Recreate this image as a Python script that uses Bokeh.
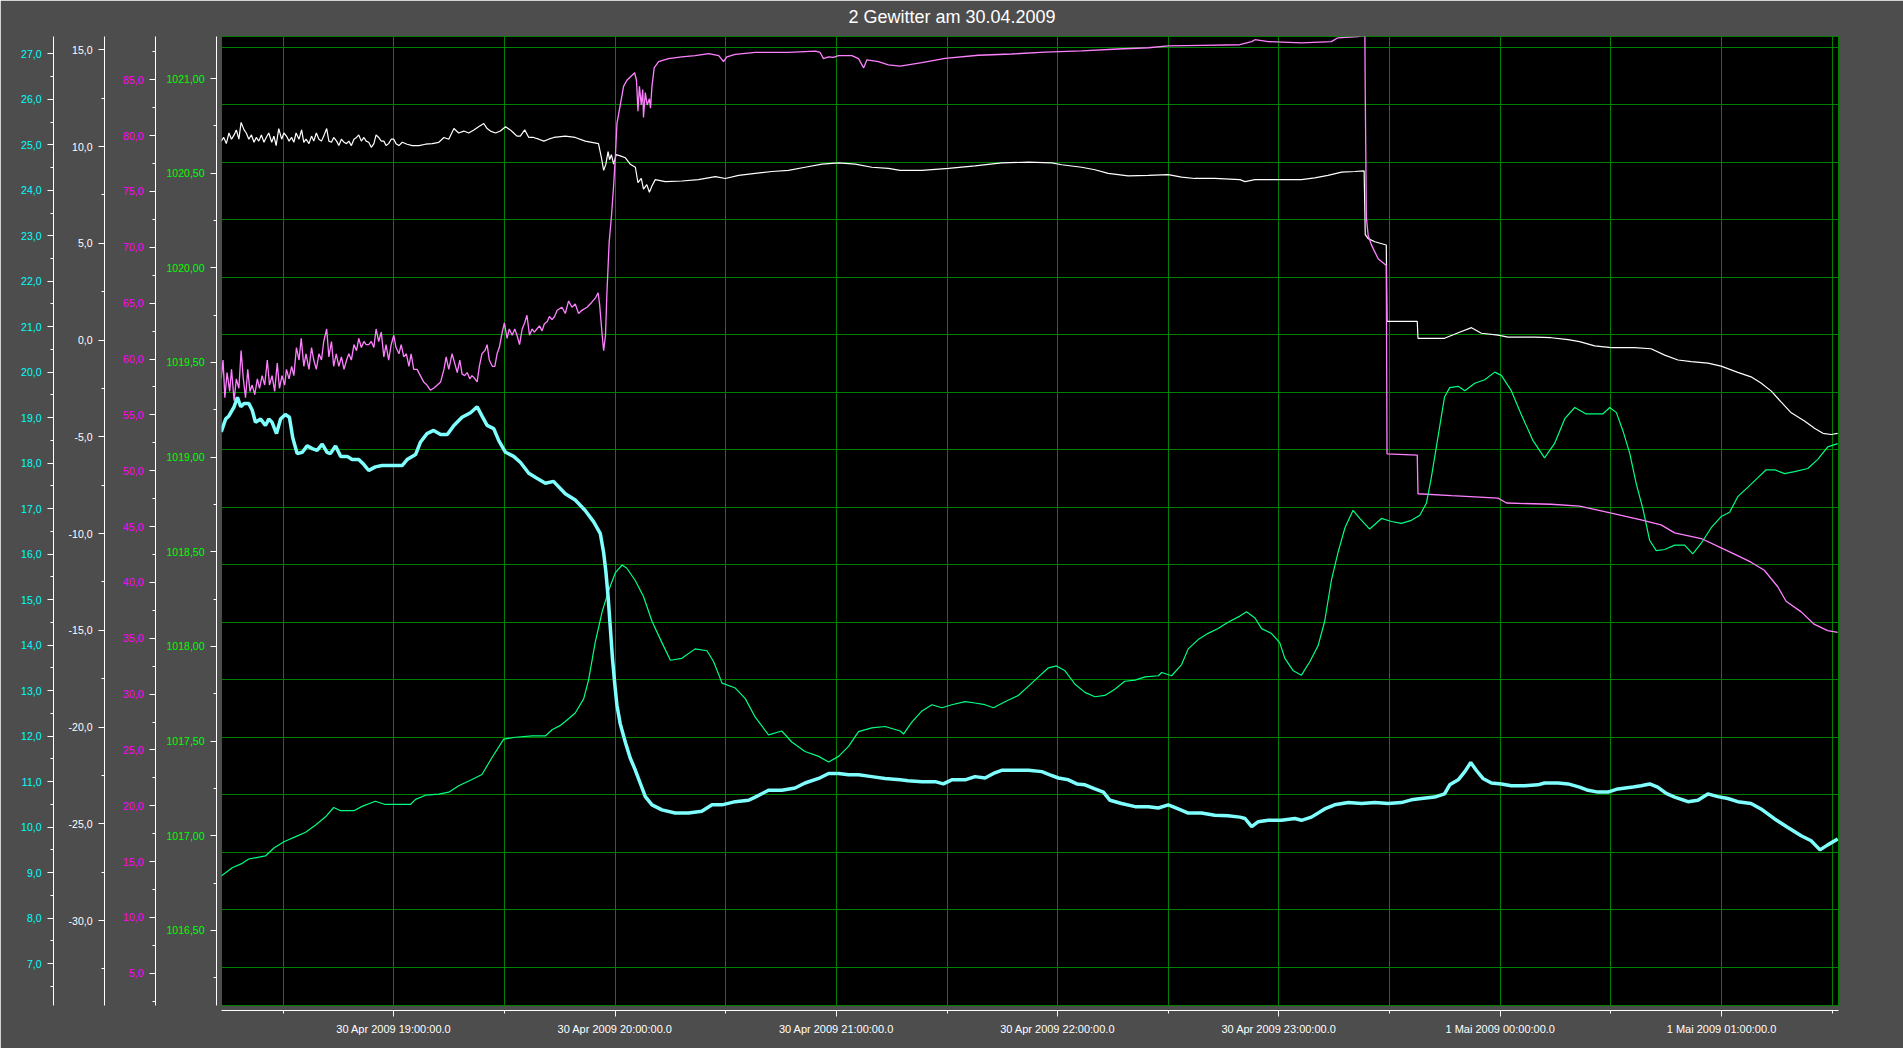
import pandas as pd
from bokeh.plotting import figure
from bokeh.models import (Range1d, LinearAxis, SingleIntervalTicker, FixedTicker,
                          CustomJSTickFormatter, Grid, ColumnDataSource)
from bokeh.embed import file_html
from bokeh.resources import INLINE

TITLE = "2 Gewitter am 30.04.2009"
BASE = "2009-04-30 19:00:00"          # time reference, series times are minutes after it
X_START = "2009-04-30 18:13:17"
X_END = "2009-05-01 01:31:43"

HOUR_TICKS = ["2009-04-30 19:00", "2009-04-30 20:00", "2009-04-30 21:00", "2009-04-30 22:00",
              "2009-04-30 23:00", "2009-05-01 00:00", "2009-05-01 01:00"]
HOUR_LABELS = ["30 Apr 2009 19:00:00.0", "30 Apr 2009 20:00:00.0", "30 Apr 2009 21:00:00.0",
               "30 Apr 2009 22:00:00.0", "30 Apr 2009 23:00:00.0", "1 Mai 2009 00:00:00.0",
               "1 Mai 2009 01:00:00.0"]
HALF_TICKS = ["2009-04-30 18:30", "2009-04-30 19:30", "2009-04-30 20:30", "2009-04-30 21:30",
              "2009-04-30 22:30", "2009-04-30 23:30", "2009-05-01 00:30", "2009-05-01 01:30"]

# axis ranges (value at bottom, value at top of plot area)
TEMP_RANGE = (6.079, 27.380)
DEW_RANGE = (-34.39, 15.687)
HUM_RANGE = (2.12, 88.877)
PRES_RANGE = (1016.103, 1021.222)
GRID_RANGE = (-0.668, 16.187)   # horizontal grid rows 0..16
GRID_ROWS = list(range(17))

# cyan series (temperature) : (minutes after 19:00, value)
TEMP = [(-46.8, 18.69), (-45.6, 18.97), (-44.7, 19.04), (-43.3, 19.24), (-42.4, 19.45), (-41.5, 19.24),
        (-40.6, 19.31), (-39.3, 19.31), (-38.4, 19.17), (-37.5, 18.90), (-36.1, 18.97), (-34.8, 18.83),
        (-33.9, 18.97), (-33.0, 18.90), (-31.8, 18.65), (-30.7, 18.97), (-29.4, 19.07), (-28.3, 19.01),
        (-27.4, 18.56), (-26.2, 18.21), (-24.8, 18.24), (-23.5, 18.38), (-22.1, 18.32), (-20.8, 18.28),
        (-19.4, 18.42), (-18.1, 18.24), (-17.2, 18.21), (-15.8, 18.38), (-14.4, 18.15), (-12.6, 18.15),
        (-11.3, 18.08), (-9.5, 18.08), (-8.1, 17.97), (-6.8, 17.84), (-5.0, 17.92), (-3.2, 17.95),
        (-1.4, 17.95), (0.5, 17.95), (2.3, 17.95), (3.6, 18.08), (5.9, 18.19), (7.2, 18.46), (9.0, 18.65),
        (10.8, 18.72), (12.7, 18.63), (14.5, 18.63), (16.3, 18.83), (18.5, 19.01), (20.8, 19.11),
        (22.6, 19.24), (23.9, 19.04), (25.3, 18.83), (27.1, 18.76), (28.5, 18.49), (30.3, 18.24),
        (32.5, 18.15), (34.3, 18.02), (36.6, 17.78), (38.8, 17.67), (41.1, 17.56), (43.3, 17.60),
        (46.5, 17.33), (49.2, 17.19), (51.9, 16.96), (54.2, 16.71), (56.0, 16.45), (56.9, 16.03),
        (57.5, 15.62), (58.1, 15.07), (58.7, 14.39), (59.3, 13.70), (59.9, 13.16), (60.5, 12.68),
        (61.4, 12.27), (62.8, 11.86), (64.1, 11.52), (65.5, 11.25), (66.8, 10.97), (68.2, 10.67),
        (70.0, 10.49), (72.7, 10.38), (76.3, 10.31), (79.9, 10.31), (83.5, 10.35), (86.3, 10.49),
        (89.0, 10.49), (92.6, 10.56), (96.2, 10.59), (98.0, 10.66), (101.6, 10.81), (105.2, 10.81),
        (108.8, 10.86), (111.5, 10.97), (115.2, 11.07), (117.9, 11.18), (120.6, 11.18), (123.3, 11.15),
        (126.0, 11.15), (129.6, 11.11), (133.2, 11.07), (137.3, 11.04),
        (139.5, 11.02), (143.2, 11.00), (146.8, 11.00), (149.0, 10.95), (151.3, 11.04), (154.9, 11.04),
        (157.6, 11.11), (160.3, 11.08), (162.6, 11.18), (164.8, 11.25), (168.4, 11.25), (172.1, 11.25),
        (175.7, 11.22), (177.9, 11.15), (180.2, 11.08), (182.9, 11.04), (185.2, 10.95), (187.4, 10.93),
        (190.1, 10.84), (192.4, 10.77), (194.2, 10.59), (197.3, 10.52), (201.0, 10.45), (204.6, 10.45),
        (207.3, 10.42), (210.0, 10.49), (212.7, 10.40), (215.4, 10.31), (219.0, 10.31), (222.6, 10.26),
        (226.2, 10.25), (229.4, 10.22),
        (230.8, 10.19), (232.6, 10.01), (234.4, 10.12), (237.1, 10.15), (240.7, 10.15), (244.3, 10.19),
        (246.1, 10.15), (248.8, 10.22), (252.4, 10.40), (255.1, 10.49), (258.8, 10.54), (262.4, 10.52),
        (266.0, 10.54), (269.6, 10.52), (273.2, 10.54), (275.9, 10.60), (278.6, 10.63), (282.2, 10.66),
        (284.9, 10.73), (286.3, 10.93), (288.6, 11.04), (290.4, 11.22), (292.0, 11.42), (293.5, 11.25),
        (295.3, 11.07), (297.6, 10.97), (300.3, 10.95), (303.0, 10.91), (306.6, 10.91), (310.2, 10.93),
        (312.0, 10.97), (315.7, 10.97), (318.4, 10.95), (321.5, 10.88),
        (323.8, 10.81), (326.5, 10.77), (329.2, 10.77), (331.9, 10.84), (336.0, 10.88), (338.2, 10.91),
        (340.5, 10.95), (342.7, 10.88), (345.0, 10.74), (347.3, 10.66), (350.9, 10.56), (353.6, 10.59),
        (356.3, 10.73), (359.0, 10.67), (361.7, 10.63), (364.4, 10.56), (368.0, 10.52), (370.7, 10.40),
        (374.4, 10.18), (378.0, 9.99), (381.6, 9.81), (384.3, 9.70), (386.7, 9.50), (388.8, 9.61),
        (391.5, 9.74)]

# white series
DEW = [(-46.8, 10.28), (-46.1, 10.47), (-45.4, 10.15), (-44.7, 10.70), (-44.0, 10.38), (-43.3, 10.60),
       (-42.7, 10.86), (-42.0, 10.38), (-41.4, 11.25), (-40.6, 10.86), (-40.0, 10.70), (-39.3, 10.38),
       (-38.6, 10.60), (-37.9, 10.22), (-37.3, 10.47), (-36.6, 10.28), (-35.9, 10.60), (-35.2, 10.22),
       (-34.6, 10.47), (-33.9, 10.70), (-33.1, 10.22), (-32.5, 10.54), (-31.9, 10.05), (-31.2, 10.93),
       (-30.4, 10.38), (-29.8, 10.70), (-29.1, 10.54), (-28.4, 10.28), (-27.7, 10.47), (-27.1, 10.22),
       (-26.5, 10.70), (-25.7, 10.38), (-25.0, 10.86), (-24.4, 10.22), (-23.8, 10.38), (-23.0, 10.15),
       (-22.3, 10.54), (-21.7, 10.28), (-21.0, 10.70), (-20.3, 10.38), (-19.6, 10.28), (-19.0, 10.54),
       (-18.2, 10.93), (-17.6, 10.28), (-16.9, 10.22), (-16.3, 10.47), (-15.5, 10.28), (-14.9, 10.05),
       (-14.2, 10.38), (-13.5, 10.22), (-12.8, 10.15), (-12.2, 10.28), (-11.5, 10.05), (-10.8, 10.38),
       (-10.1, 10.47), (-9.5, 10.60), (-8.8, 10.28), (-8.1, 10.47), (-7.5, 10.28), (-6.8, 10.22),
       (-6.1, 9.96), (-5.4, 10.15), (-4.8, 10.60), (-4.1, 10.47), (-3.4, 10.28), (-2.7, 10.28),
       (-2.1, 10.05), (-1.4, 10.15), (-0.7, 10.38), (0.0, 10.38), (0.6, 10.15), (1.4, 10.05), (2.3, 10.22),
       (3.6, 10.12), (5.0, 10.05), (6.8, 10.05), (8.6, 10.12), (10.4, 10.15), (12.2, 10.22), (13.6, 10.47),
       (14.9, 10.38), (16.3, 10.93), (17.6, 10.70), (19.0, 10.80), (20.3, 10.70), (21.7, 10.86),
       (23.0, 11.02), (24.4, 11.19), (25.3, 10.93), (26.2, 10.80), (27.6, 10.70), (28.9, 10.80),
       (30.3, 11.02), (31.6, 10.86), (32.5, 10.70), (33.4, 10.54), (34.3, 10.54), (35.5, 10.86),
       (36.6, 10.47), (37.9, 10.47), (39.3, 10.38), (40.7, 10.28), (42.0, 10.38), (43.4, 10.47),
       (46.5, 10.54), (49.2, 10.47), (51.9, 10.28), (53.7, 10.22), (55.5, 10.15), (56.3, 9.42),
       (56.9, 8.77), (57.5, 9.09), (58.1, 9.74), (58.5, 9.32), (59.0, 9.58), (59.6, 9.09), (60.3, 9.58),
       (61.4, 9.52), (62.8, 9.42), (64.1, 9.09), (65.5, 8.93), (66.2, 8.13), (67.1, 8.35), (67.7, 7.80),
       (68.6, 8.03), (69.3, 7.64), (70.0, 7.96), (70.9, 8.29), (73.6, 8.19), (78.1, 8.22), (82.6, 8.29),
       (87.2, 8.45), (89.9, 8.35), (93.5, 8.51), (98.0, 8.61), (102.5, 8.71), (107.0, 8.77),
       (111.5, 8.93), (116.1, 9.09), (120.6, 9.16), (125.1, 9.09), (129.6, 8.93), (134.1, 8.87),
       (137.3, 8.77), (143.2, 8.77), (150.4, 8.87), (157.6, 9.00), (164.8, 9.16), (172.1, 9.19),
       (178.4, 9.16), (181.1, 9.06), (186.5, 8.93), (190.1, 8.80), (193.7, 8.61), (199.1, 8.48),
       (204.6, 8.51), (210.0, 8.55), (213.6, 8.42), (217.2, 8.35), (222.6, 8.35), (229.4, 8.29),
       (230.8, 8.19), (233.5, 8.29), (238.9, 8.29), (246.1, 8.29), (249.7, 8.38), (253.3, 8.51),
       (257.0, 8.68), (260.6, 8.71), (263.1, 8.74), (263.4, 5.45), (264.2, 5.24), (266.0, 5.08),
       (269.1, 4.91), (269.3, 0.96), (277.5, 0.96), (277.7, 0.09), (284.9, 0.09), (288.6, 0.38),
       (292.2, 0.64), (294.9, 0.35), (299.4, 0.25), (302.1, 0.15), (309.3, 0.15), (313.8, 0.12),
       (318.4, 0.02), (321.5, -0.08), (325.6, -0.30), (330.1, -0.39), (336.4, -0.39), (340.9, -0.45),
       (344.6, -0.78), (348.2, -1.03), (351.8, -1.12), (356.3, -1.19), (359.9, -1.35), (364.4, -1.67),
       (368.0, -1.90), (370.7, -2.22), (373.5, -2.64), (376.2, -3.21), (378.9, -3.76), (382.5, -4.18),
       (385.2, -4.56), (387.5, -4.82), (389.7, -4.88), (391.5, -4.82)]

# magenta series
HUM = [(-46.8, 58.23), (-46.3, 59.91), (-45.8, 56.54), (-45.2, 58.79), (-44.5, 57.10), (-44.0, 59.07),
       (-43.3, 56.26), (-42.7, 58.23), (-42.0, 57.38), (-41.4, 60.75), (-40.8, 58.23), (-40.2, 56.54),
       (-39.6, 59.07), (-39.0, 57.10), (-38.4, 57.67), (-37.7, 56.82), (-37.0, 58.23), (-36.4, 57.38),
       (-35.7, 58.51), (-35.0, 57.67), (-34.3, 59.91), (-33.7, 57.67), (-33.0, 58.51), (-32.3, 57.10),
       (-31.6, 59.63), (-31.0, 57.38), (-30.3, 58.51), (-29.6, 57.67), (-29.1, 59.07), (-28.4, 58.23),
       (-27.7, 59.35), (-27.1, 58.51), (-26.4, 61.03), (-25.7, 59.91), (-25.1, 61.85), (-24.4, 59.35),
       (-23.8, 60.47), (-23.0, 59.07), (-22.3, 61.03), (-21.7, 59.91), (-21.0, 59.07), (-20.3, 60.47),
       (-19.6, 59.91), (-19.0, 61.57), (-18.2, 62.69), (-17.6, 60.19), (-16.9, 61.57), (-16.3, 59.35),
       (-15.6, 60.47), (-14.9, 59.35), (-14.2, 60.19), (-13.5, 59.07), (-12.8, 59.91), (-12.2, 60.47),
       (-11.5, 59.91), (-10.8, 61.29), (-10.1, 60.75), (-9.5, 61.85), (-8.8, 61.03), (-8.1, 61.57),
       (-7.5, 61.29), (-6.8, 61.29), (-6.1, 61.57), (-5.4, 61.03), (-4.8, 62.69), (-4.1, 61.57),
       (-3.4, 62.41), (-2.7, 60.19), (-2.1, 61.29), (-1.4, 59.91), (-0.7, 61.29), (0.0, 62.13),
       (0.6, 61.03), (1.4, 60.47), (2.0, 61.29), (2.7, 60.19), (3.4, 60.47), (4.1, 59.35), (4.7, 60.47),
       (5.4, 59.07), (6.3, 59.07), (7.2, 58.51), (8.1, 57.95), (9.0, 57.67), (9.9, 57.22), (10.8, 57.38),
       (11.8, 57.67), (12.7, 57.95), (13.6, 59.07), (14.2, 60.19), (14.9, 59.07), (15.8, 60.47),
       (16.5, 59.63), (17.2, 58.79), (17.9, 59.91), (18.5, 58.67), (19.2, 58.51), (19.9, 58.79),
       (20.6, 58.23), (21.2, 58.51), (22.0, 58.23), (22.6, 57.95), (23.2, 59.35), (23.9, 60.47),
       (24.7, 60.75), (25.3, 61.29), (25.9, 59.91), (26.7, 59.35), (27.4, 59.35), (28.0, 60.47),
       (28.6, 61.03), (29.4, 62.41), (30.0, 63.25), (30.7, 61.85), (31.3, 62.69), (32.1, 62.13),
       (32.8, 62.69), (33.4, 62.13), (34.1, 61.29), (34.8, 62.69), (35.5, 63.25), (36.1, 63.92),
       (36.8, 62.13), (37.5, 62.69), (38.1, 62.41), (38.8, 62.69), (39.5, 62.97), (40.2, 62.52),
       (40.8, 63.13), (41.6, 63.36), (42.2, 63.81), (42.9, 63.53), (43.6, 63.81), (44.3, 64.37),
       (45.6, 64.64), (46.5, 64.08), (47.4, 65.20), (48.3, 64.64), (49.2, 64.92), (50.1, 64.08),
       (51.0, 64.36), (52.4, 64.64), (53.7, 65.09), (54.7, 65.48), (55.4, 65.93), (55.8, 64.92),
       (56.5, 62.13), (56.9, 60.75), (57.4, 62.13), (57.8, 66.03), (58.1, 68.26), (58.4, 70.49),
       (59.0, 72.72), (59.6, 75.51), (60.1, 78.29), (60.5, 81.07), (61.4, 82.74), (62.3, 84.41),
       (63.2, 84.96), (64.6, 85.41), (65.3, 85.63), (65.8, 84.96), (66.2, 82.18), (66.6, 84.41),
       (67.1, 82.74), (67.5, 84.13), (67.7, 81.63), (68.2, 83.86), (68.7, 82.74), (69.3, 83.30),
       (69.6, 82.46), (70.0, 84.41), (70.6, 86.07), (71.8, 86.62), (74.5, 86.90), (78.1, 87.06),
       (81.7, 87.17), (85.4, 87.34), (88.1, 87.17), (89.4, 86.62), (90.3, 87.06), (92.6, 87.28),
       (98.0, 87.45), (107.0, 87.45), (114.3, 87.56), (115.6, 87.45), (116.5, 86.90), (117.9, 87.06),
       (119.2, 87.00), (120.6, 87.17), (124.2, 87.17), (126.0, 86.90), (127.4, 86.07), (128.3, 86.79),
       (131.4, 86.62), (134.1, 86.34), (137.3, 86.23), (143.2, 86.53), (149.5, 86.92), (158.5, 87.20),
       (167.5, 87.31), (176.6, 87.48), (186.5, 87.59), (196.4, 87.76), (204.6, 87.87), (210.0, 88.03),
       (219.0, 88.09), (229.4, 88.14), (232.6, 88.42), (233.5, 88.59), (237.1, 88.42), (246.1, 88.31),
       (254.2, 88.42), (256.0, 88.76), (261.5, 88.86), (262.8, 88.97), (263.3, 88.86), (263.4, 83.85),
       (263.7, 72.71), (264.2, 71.04), (265.1, 70.20), (266.9, 68.98), (269.1, 68.37), (269.3, 51.50),
       (277.5, 51.39), (277.7, 47.94), (286.8, 47.77), (299.4, 47.55), (301.7, 47.11), (313.8, 47.00),
       (321.5, 46.83), (329.2, 46.27), (338.2, 45.60), (343.6, 45.15), (347.3, 44.43), (354.5, 43.93),
       (359.9, 43.09), (363.5, 42.54), (368.0, 41.81), (371.6, 41.09), (375.3, 39.59), (377.5, 38.31),
       (381.6, 37.36), (385.2, 36.24), (388.8, 35.69), (391.5, 35.53)]

# green series (pressure)
PRES = [(-46.8, 1016.787), (-45.6, 1016.804), (-43.8, 1016.831), (-41.1, 1016.854), (-39.3, 1016.877),
        (-34.8, 1016.893), (-32.5, 1016.935), (-29.8, 1016.968), (-26.6, 1016.995), (-23.9, 1017.018),
        (-21.2, 1017.057), (-18.5, 1017.100), (-16.3, 1017.149), (-14.4, 1017.132), (-10.8, 1017.132),
        (-8.6, 1017.155), (-5.0, 1017.182), (-2.3, 1017.165), (0.5, 1017.165), (4.5, 1017.165),
        (5.9, 1017.192), (8.6, 1017.214), (12.2, 1017.220), (14.9, 1017.230), (17.6, 1017.264),
        (21.2, 1017.297), (23.9, 1017.323), (26.6, 1017.412), (29.8, 1017.510), (33.0, 1017.520),
        (37.5, 1017.527), (41.1, 1017.527), (42.9, 1017.560), (45.2, 1017.583), (46.5, 1017.603),
        (49.2, 1017.648), (51.5, 1017.724), (52.8, 1017.822), (54.6, 1018.020), (56.5, 1018.184),
        (58.3, 1018.298), (60.1, 1018.390), (61.9, 1018.430), (63.2, 1018.413), (65.5, 1018.347),
        (67.7, 1018.264), (70.0, 1018.133), (72.7, 1018.020), (75.0, 1017.927), (78.1, 1017.937),
        (81.7, 1017.987), (84.9, 1017.977), (86.7, 1017.920), (89.0, 1017.806), (92.6, 1017.780),
        (95.3, 1017.724), (98.0, 1017.626), (101.6, 1017.533), (105.2, 1017.553), (107.9, 1017.495),
        (111.5, 1017.445), (115.2, 1017.419), (117.9, 1017.389), (120.6, 1017.419), (123.3, 1017.472),
        (126.0, 1017.550), (129.6, 1017.570), (133.2, 1017.577), (137.3, 1017.553), (138.2, 1017.537),
        (140.4, 1017.599), (143.2, 1017.659), (145.9, 1017.692), (148.6, 1017.676), (151.3, 1017.692),
        (154.9, 1017.708), (157.6, 1017.701), (160.3, 1017.692), (162.6, 1017.676), (165.7, 1017.708),
        (169.3, 1017.741), (172.1, 1017.790), (174.8, 1017.839), (177.5, 1017.887), (179.7, 1017.897),
        (182.0, 1017.871), (184.7, 1017.800), (187.4, 1017.757), (190.1, 1017.734), (192.8, 1017.741),
        (195.5, 1017.774), (198.2, 1017.816), (201.0, 1017.822), (203.7, 1017.839), (207.3, 1017.845),
        (208.2, 1017.862), (210.9, 1017.845), (213.6, 1017.904), (215.4, 1017.987), (218.1, 1018.036),
        (220.8, 1018.069), (223.5, 1018.095), (226.2, 1018.128), (229.4, 1018.160), (231.2, 1018.183),
        (233.5, 1018.150), (235.3, 1018.094), (238.0, 1018.068), (240.2, 1018.020), (241.6, 1017.937),
        (243.9, 1017.871), (246.1, 1017.848), (248.4, 1017.920), (250.6, 1018.003), (252.4, 1018.133),
        (254.2, 1018.347), (256.0, 1018.495), (257.9, 1018.627), (260.1, 1018.719), (261.9, 1018.676),
        (264.6, 1018.620), (267.8, 1018.676), (270.5, 1018.660), (273.2, 1018.650), (275.9, 1018.666),
        (278.2, 1018.693), (280.0, 1018.758), (281.3, 1018.890), (283.1, 1019.104), (284.9, 1019.318),
        (286.3, 1019.367), (288.6, 1019.374), (290.4, 1019.351), (293.1, 1019.390), (295.8, 1019.409),
        (298.5, 1019.449), (300.3, 1019.432), (303.0, 1019.351), (305.7, 1019.225), (308.9, 1019.087),
        (312.0, 1018.996), (314.7, 1019.071), (317.5, 1019.203), (320.2, 1019.262), (323.3, 1019.228),
        (327.8, 1019.228), (329.7, 1019.262), (331.5, 1019.235), (333.3, 1019.137), (335.1, 1019.021),
        (336.9, 1018.857), (338.7, 1018.725), (340.5, 1018.561), (342.3, 1018.506), (344.6, 1018.512),
        (347.3, 1018.535), (350.0, 1018.535), (352.2, 1018.489), (354.5, 1018.545), (357.2, 1018.627),
        (359.9, 1018.686), (362.2, 1018.709), (364.4, 1018.791), (367.1, 1018.840), (369.8, 1018.890),
        (372.1, 1018.933), (374.4, 1018.933), (377.1, 1018.913), (379.8, 1018.923), (383.4, 1018.940),
        (386.1, 1018.988), (388.8, 1019.054), (391.5, 1019.071)]

BG = "#4d4d4d"
GRIDC = "#008000"
FONT = "Liberation Sans"


def ms(ts):
    return pd.Timestamp(ts).value // 10**6


BASE_MS = ms(BASE)


def source(pairs):
    return ColumnDataSource(dict(x=[BASE_MS + m * 60000.0 for m, _ in pairs],
                                 y=[v for _, v in pairs]))


p = figure(width=1903, height=1048, output_backend="svg", toolbar_location=None, title=TITLE,
           x_range=Range1d(ms(X_START), ms(X_END)), y_range=Range1d(*GRID_RANGE),
           x_axis_location=None, y_axis_location=None,
           min_border_left=221, min_border_right=65, min_border_top=36, min_border_bottom=43,
           background_fill_color="black", border_fill_color=BG,
           outline_line_color=GRIDC, outline_line_width=1)
p.xgrid.visible = False
p.ygrid.visible = False

p.title.text_color = "white"
p.title.text_font = FONT
p.title.text_font_style = "normal"
p.title.text_font_size = "18px"
p.title.align = "left"
p.title.offset = 627
p.title.vertical_align = "top"
p.title.standoff = 13.5

p.extra_y_ranges = {"temp": Range1d(*TEMP_RANGE), "dew": Range1d(*DEW_RANGE),
                    "hum": Range1d(*HUM_RANGE), "pres": Range1d(*PRES_RANGE)}

p.add_layout(Grid(dimension=1, ticker=FixedTicker(ticks=GRID_ROWS),
                  grid_line_color=GRIDC, grid_line_width=1), "center")
p.add_layout(Grid(dimension=0, ticker=FixedTicker(ticks=sorted(ms(t) for t in HOUR_TICKS + HALF_TICKS)),
                  grid_line_color=GRIDC, grid_line_width=1), "center")

# invisible spacer axes (gap between axis lines and the plot area)
gap_left = LinearAxis(ticker=FixedTicker(ticks=[8]), major_label_overrides={8: ""},
                      major_tick_in=0, major_tick_out=5, minor_tick_in=0, minor_tick_out=0,
                      major_tick_line_color=None, minor_tick_line_color=None,
                      axis_line_color=None, major_label_standoff=0)
p.add_layout(gap_left, "left")


def value_axis(name, interval, decimals, color, pad):
    ax = LinearAxis(y_range_name=name,
                    ticker=SingleIntervalTicker(interval=interval, num_minor_ticks=2),
                    formatter=CustomJSTickFormatter(
                        code="return tick.toFixed(%d).replace('.', ',');" % decimals))
    ax.axis_line_color = "white"
    ax.major_tick_line_color = "white"
    ax.minor_tick_line_color = "white"
    ax.major_tick_in = 0
    ax.major_tick_out = 6
    ax.minor_tick_in = 0
    ax.minor_tick_out = 3
    ax.major_label_text_color = color
    ax.major_label_text_font = FONT
    ax.major_label_text_font_size = "10.5px"
    ax.major_label_standoff = 6
    if pad is not None:
        ax.axis_label = "\u00a0"
        ax.axis_label_text_font_size = "1px"
        ax.axis_label_standoff = pad
    return ax


p.add_layout(value_axis("pres", 0.5, 2, "#00ff00", 4), "left")
p.add_layout(value_axis("hum", 5, 1, "#ff00ff", 11), "left")
p.add_layout(value_axis("dew", 5, 1, "white", 8), "left")
p.add_layout(value_axis("temp", 1, 1, "#00ffff", None), "left")

hour_ms = [ms(t) for t in HOUR_TICKS]
gap_bottom = LinearAxis(ticker=FixedTicker(ticks=[hour_ms[0]]), major_label_overrides={hour_ms[0]: ""},
                        major_tick_in=0, major_tick_out=5, minor_tick_in=0, minor_tick_out=0,
                        major_tick_line_color=None, minor_tick_line_color=None,
                        axis_line_color=None, major_label_standoff=0,
                        major_label_orientation="vertical")
p.add_layout(gap_bottom, "below")

xax = LinearAxis(ticker=FixedTicker(ticks=hour_ms, minor_ticks=[ms(t) for t in HALF_TICKS]),
                 major_label_overrides=dict(zip(hour_ms, HOUR_LABELS)))
xax.axis_line_color = "white"
xax.major_tick_line_color = "white"
xax.minor_tick_line_color = "white"
xax.major_tick_in = 0
xax.major_tick_out = 6
xax.minor_tick_in = 0
xax.minor_tick_out = 3
xax.major_label_text_color = "white"
xax.major_label_text_font = "Liberation Sans Narrow, Liberation Sans"
xax.major_label_text_font_size = "11px"
xax.major_label_standoff = 6
p.add_layout(xax, "below")

p.line("x", "y", source=source(DEW), y_range_name="dew", line_color="white", line_width=1.2)
p.line("x", "y", source=source(HUM), y_range_name="hum", line_color="#ff80ff", line_width=1.3)
p.line("x", "y", source=source(PRES), y_range_name="pres", line_color="#00ff80", line_width=1.2)
p.line("x", "y", source=source(TEMP), y_range_name="temp", line_color="#80ffff", line_width=3.5)

open("out.html", "w").write(file_html(p, INLINE))
